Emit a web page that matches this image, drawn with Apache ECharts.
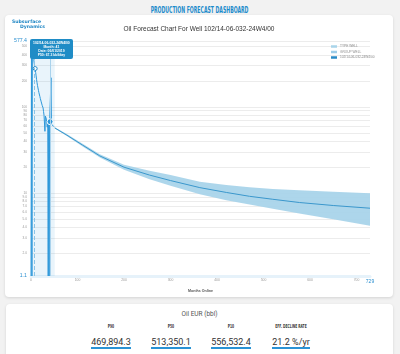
<!doctype html>
<html lang="en">
  <head>
    <meta charset="utf-8">
    <title>Production Forecast Dashboard</title>
    <script src="https://cdn.jsdelivr.net/npm/echarts@6.0.0/dist/echarts.min.js"></script>
    <style>
      html, body {
        width: 400px;
        height: 354px;
        margin: 0;
        overflow: hidden;
        background: #f2f2f2;
        font-family: Roboto, 'Liberation Sans', sans-serif;
      }

      #header {
        position: absolute;
        left: 0;
        top: 2px;
        width: 400px;
        text-align: center;
        line-height: 11px;
      }

      #header span {
        display: inline-block;
        font-family: 'DejaVu Sans Condensed', sans-serif;
        font-weight: bold;
        font-size: 9.5px;
        color: #1b8bcb;
        transform: scaleX(0.54);
        white-space: nowrap;
      }

      .card {
        position: absolute;
        background: #fff;
        border-radius: 4px;
        box-shadow: 0 1px 3px rgba(0, 0, 0, 0.13);
      }

      #chartCard { left: 5px; top: 15px; width: 388px; height: 282px; }
      #chart { width: 100%; height: 100%; }

      #logo {
        position: absolute;
        left: 7px;
        top: 5px;
        z-index: 5;
        font-family: 'DejaVu Sans', sans-serif;
        font-weight: bold;
        font-size: 4.6px;
        line-height: 4.8px;
        color: #1f86c4;
      }
      #logo .l2 { padding-left: 8px; }

      #eurCard { left: 6px; top: 304px; width: 387px; height: 60px; }
      #eurTitle {
        position: absolute; left: 0; top: 6px; width: 100%;
        text-align: center; font-size: 6.5px; line-height: 8px; color: #555;
      }
      #eurRow {
        position: absolute; left: 75px; top: 19px; width: 240px;
        display: flex;
      }
      .col { width: 60px; text-align: center; }
      .lbl {
        font-family: 'DejaVu Sans Condensed', sans-serif; font-weight: bold;
        font-size: 5.5px; line-height: 7px; color: #3a3a3a;
        transform: scaleX(0.6); white-space: nowrap;
      }
      .val {
        display: inline-block; margin-top: 2px;
        font-size: 9px; line-height: 10px; color: #333;
        border-bottom: 2px solid #2a93d5; white-space: nowrap;
      }
    </style>
  </head>
  <body>
    <div id="header"><span>PRODUCTION FORECAST DASHBOARD</span></div>
    <div class="card" id="chartCard">
      <div id="logo">
        <div>Subsurface</div>
        <div class="l2">Dynamics</div>
      </div>
      <div id="chart"></div>
    </div>
    <div class="card" id="eurCard">
      <div id="eurTitle">Oil EUR (bbl)</div>
      <div id="eurRow"></div>
    </div>
    <script>
      const wellName = '102/14-06-032-24W4/00';

      // history of the well (month, bbl/day)
      const historyMonths = [0, 1, 2, 3, 4, 5, 6, 7, 8, 9, 10, 11, 12, 13, 14, 15, 16, 17, 18, 19, 20,
        21, 22, 23, 24, 25, 26, 27, 28, 29, 30, 31, 32, 33, 34, 35, 36, 37, 38, 39, 40,
        41, 42, 43, 44, 45, 46, 47, 48, 49, 50, 51];
      const historyRates = [1.1, 577.4, 1.1, 560, 470, 400, 350, 315, 290, 277, 250, 228, 206, 190, 176, 165, 155, 146, 139, 132, 125,
        119, 114, 109, 104, 100, 97, 88, 80, 84, 52, 78, 74, 72, 70, 58, 69, 1.1, 66, 1.1, 64,
        67.3, 66, 217, 63, 62, 61, 62, 60, 59, 58, 57];

      // forecast
      const forecastMonths = [51, 77, 111, 148, 200, 255, 300, 363, 420, 470, 520, 577, 650, 729];
      const p50 = [57, 47, 36, 27, 20, 16.2, 14, 11.6, 10.2, 9.2, 8.5, 7.8, 7.2, 6.7];
      const p90 = [56, 45.8, 34.8, 25.8, 18.7, 14.5, 12.2, 9.7, 8.3, 7.4, 6.6, 5.8, 5.0, 4.2];
      const p10 = [58, 48.3, 37.3, 28.3, 21.4, 18.2, 16.2, 13.6, 12.4, 11.7, 11.2, 10.8, 10.4, 10.0];

      const yTicks = [1.1, 2, 3, 4, 5, 6, 7, 8, 9, 10, 20, 30, 40, 50, 60, 70, 80, 90, 100, 200, 300, 400, 500, 577.4];
      const xTicks = [0, 100, 200, 300, 400, 500, 600, 700, 729];

      const eurLabels = ['P90', 'P50', 'P10', 'EFF. DECLINE RATE'];
      const eurValues = ['469,894.3', '513,350.1', '556,532.4', '21.2 %/yr'];

      const tipDate = '06/01/2019';

      let row = document.getElementById('eurRow');
      eurLabels.forEach((label, i) => {
        let col = document.createElement('div');
        col.className = 'col';
        col.innerHTML = '<div class="lbl">' + label + '</div><div class="val">' + eurValues[i] + '</div>';
        row.appendChild(col);
      });

      const bandColor = '#a9d4ea';
      const wellColor = '#2a8bc7';

      let historyData = historyMonths.map((m, i) => {
        let item = { value: [m, historyRates[i]] };
        if (m === 9) {
          item.symbol = 'circle';
          item.symbolSize = 4;
          item.itemStyle = { color: '#fff', borderColor: wellColor, borderWidth: 1 };
        }
        if (m === 41) {
          item.symbol = 'circle';
          item.symbolSize = 4;
          item.itemStyle = { color: wellColor, borderColor: '#fff', borderWidth: 1 };
        }
        return item;
      });

      // P90..P10 band as one polygon through the axis scales
      function renderBand(params, api) {
        if (params.dataIndex !== 0) return null;
        let upper = forecastMonths.map((m, i) => api.coord([m, p10[i]]));
        let lower = forecastMonths.map((m, i) => api.coord([m, p90[i]])).reverse();
        return {
          type: 'polygon',
          shape: { points: upper.concat(lower) },
          style: { fill: bandColor, opacity: 0.95 }
        };
      }

      let chart = echarts.init(document.getElementById('chart'), null, { renderer: 'canvas' });

      let option = {
        animation: false,
        title: {
          text: 'Oil Forecast Chart For Well ' + wellName,
          left: 'center',
          top: 6,
          textStyle: { fontSize: 6.5, fontWeight: 'normal', color: '#333', fontFamily: 'Liberation Sans' }
        },
        legend: {
          orient: 'vertical',
          left: 321,
          top: 25,
          itemWidth: 6,
          itemHeight: 2.5,
          itemGap: 2.5,
          icon: 'rect',
          textStyle: { fontSize: 3.2, color: '#888', padding: [0, 0, 0, -2] },
          data: [
            { name: 'TYPE WELL', itemStyle: { color: bandColor } },
            { name: 'GROUP WELL', itemStyle: { color: '#9fcde8' } },
            { name: wellName, itemStyle: { color: wellColor } }
          ]
        },
        tooltip: {
          trigger: 'axis',
          alwaysShowContent: true,
          transitionDuration: 0,
          position: [25, 24],
          backgroundColor: '#1f8cc6',
          borderWidth: 0,
          padding: [2, 3],
          extraCssText: 'box-shadow:none;border-radius:2px;',
          axisPointer: { type: 'line', lineStyle: { color: '#a9d2ec', width: 1, type: 'solid' } },
          formatter: (params) => {
            let p = params.find((q) => q.seriesIndex === 2) || params[0];
            return '<div style="color:#fff;font-size:3.4px;line-height:4.1px;text-align:center;font-weight:bold">' +
              wellName + '<br>Month: ' + p.value[0] + '<br>Date: ' + tipDate +
              '<br>P50: ' + p.value[1] + ' bbl/day</div>';
          }
        },
        grid: { left: 26, right: 23, top: 26, bottom: 21, outerBoundsMode: 'none', containLabel: false },
        xAxis: {
          type: 'value',
          min: 0,
          max: 729,
          name: 'Months Online',
          nameLocation: 'middle',
          nameGap: 9,
          nameTextStyle: { fontSize: 3.6, color: '#555', fontWeight: 'bold' },
          axisLine: { show: true, lineStyle: { color: '#e6f2fa', width: 3 } },
          axisTick: { show: false, customValues: xTicks },
          splitLine: { show: false },
          axisLabel: {
            customValues: xTicks,
            margin: 3,
            fontSize: 3.4,
            color: '#999',
            formatter: (v) => v === 729 ? '{hl|' + v + '}' : v + '',
            rich: { hl: { fontSize: 5, color: '#2a8fd0' } }
          }
        },
        yAxis: {
          type: 'log',
          logBase: 10,
          min: 1.1,
          max: 577.4,
          name: 'Daily Oil Production (bbl/day)',
          nameLocation: 'middle',
          nameGap: 15,
          nameTextStyle: { fontSize: 3.8, color: '#444', fontWeight: 'bold' },
          axisLine: { show: false },
          axisTick: { show: false, customValues: yTicks },
          splitLine: { show: true, lineStyle: { color: '#ececec', width: 1 } },
          axisLabel: {
            customValues: yTicks,
            margin: 4,
            fontSize: 3.2,
            color: '#999',
            formatter: (v) => {
              if (v > 570 || v < 1.5) return '{hl|' + v.toFixed(1) + '}';
              if (v < 10) return v.toFixed(1);
              return Math.round(v) + '';
            },
            rich: { hl: { fontSize: 5.2, color: '#2a8fd0' } }
          }
        },
        series: [
          {
            name: 'GROUP WELL',
            type: 'line',
            symbol: 'none',
            color: '#9fcde8',
            lineStyle: { opacity: 0 },
            data: forecastMonths.map((m, i) => [m, p90[i]])
          },
          {
            name: 'TYPE WELL',
            type: 'custom',
            color: bandColor,
            renderItem: renderBand,
            encode: { x: 0, y: [1, 2] },
            data: forecastMonths.map((m, i) => [m, p90[i], p10[i]])
          },
          {
            name: wellName,
            type: 'line',
            symbol: 'none',
            showSymbol: true,
            showAllSymbol: true,
            color: wellColor,
            lineStyle: { width: 1, color: wellColor },
            data: historyData,
            markArea: {
              silent: true,
              itemStyle: { color: 'rgba(52, 152, 219, 0.11)' },
              data: [[{ xAxis: 0 }, { xAxis: 51 }]]
            },
            markLine: {
              silent: true,
              symbol: 'none',
              label: { show: false },
              lineStyle: { color: '#8cc4e6', type: 'dashed', width: 1 },
              data: [{ xAxis: 7 }]
            }
          },
          {
            name: wellName,
            type: 'line',
            symbol: 'none',
            color: '#3a97cc',
            lineStyle: { width: 1, color: '#3a97cc' },
            data: forecastMonths.map((m, i) => [m, p50[i]])
          }
        ]
      };

      chart.setOption(option);
      chart.dispatchAction({ type: 'showTip', seriesIndex: 2, dataIndex: 41 });
    </script>
  </body>
</html>
